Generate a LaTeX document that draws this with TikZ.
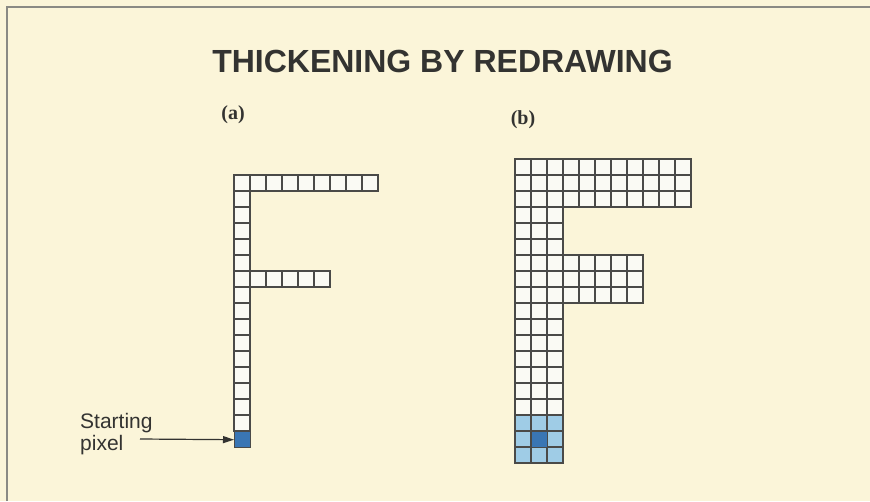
\documentclass[tikz,border=0pt]{standalone}
\usepackage{fontspec}
\setmainfont{Liberation Serif}
\setsansfont{Liberation Sans}
\usetikzlibrary{arrows.meta}
\definecolor{bg}{HTML}{FBF5D9}
\definecolor{cellfill}{HTML}{FAFAF4}
\definecolor{gridline}{HTML}{4A4A48}
\definecolor{darkblue}{HTML}{3A76B4}
\definecolor{lightblue}{HTML}{9FCCE6}
\definecolor{framegray}{HTML}{8A8A84}
\definecolor{inkgray}{HTML}{333331}
\begin{document}
\begin{tikzpicture}[x=1pt,y=-1pt,
  cell/.style={draw=gridline,line width=1.4pt,fill=cellfill},
  lcell/.style={draw=gridline,line width=1.4pt,fill=lightblue},
  pxnode/.style={draw=gridline,line width=1.4pt,fill=darkblue,minimum size=16pt,inner sep=0pt,anchor=north west},
  titlefont/.style={font=\sffamily\bfseries\fontsize{32}{38}\selectfont,text=inkgray},
  sublabel/.style={font=\bfseries\fontsize{20}{24}\selectfont,text=inkgray},
  notefont/.style={font=\sffamily\fontsize{21}{24}\selectfont,text=inkgray,anchor=base west,inner sep=0pt},
  pointer/.style={draw=inkgray,line width=1.2pt,-{Triangle[length=11pt,width=7pt]}}]
\fill[bg] (0,0) rectangle (870,501);
\useasboundingbox (0,0) rectangle (870,501);
\draw[framegray,line width=1.5pt] (7,501) -- (7,7) -- (870,7);

% title and labels
\node[titlefont,anchor=base] (title) at (442.5,72) {THICKENING BY REDRAWING};
\node[sublabel] (la) at (233,115) {(a)};
\node[sublabel] (lb) at (523,120) {(b)};

% (a) single-pixel F, origin (234,175), cell 16
\def\cs{16}
\foreach \r in {0,...,15}
  \draw[cell] (234,{175+\r*\cs}) rectangle +(\cs,\cs);
\foreach \c in {1,...,8}
  \draw[cell] ({234+\c*\cs},175) rectangle +(\cs,\cs);
\foreach \c in {1,...,5}
  \draw[cell] ({234+\c*\cs},{175+6*\cs}) rectangle +(\cs,\cs);
\node[pxnode] (startpx) at (234,{175+16*\cs}) {};

% (b) thickened F, origin (515,159)
\foreach \r in {0,...,15}
  \foreach \c in {0,1,2}
    \draw[cell] ({515+\c*\cs},{159+\r*\cs}) rectangle +(\cs,\cs);
\foreach \r in {0,1,2}
  \foreach \c in {3,...,10}
    \draw[cell] ({515+\c*\cs},{159+\r*\cs}) rectangle +(\cs,\cs);
\foreach \r in {6,7,8}
  \foreach \c in {3,...,7}
    \draw[cell] ({515+\c*\cs},{159+\r*\cs}) rectangle +(\cs,\cs);
\foreach \r in {16,17,18}
  \foreach \c in {0,1,2}
    \draw[lcell] ({515+\c*\cs},{159+\r*\cs}) rectangle +(\cs,\cs);
\node[pxnode] (startb) at ({515+\cs},{159+17*\cs}) {};

% starting pixel note
\node[notefont] (n1) at (80,428) {Starting};
\node[notefont] (n2) at (80,450) {pixel};
\coordinate (tail) at (140,{175+16.5*\cs});
\draw[pointer] (tail) -- (startpx.west);
\end{tikzpicture}
\end{document}
